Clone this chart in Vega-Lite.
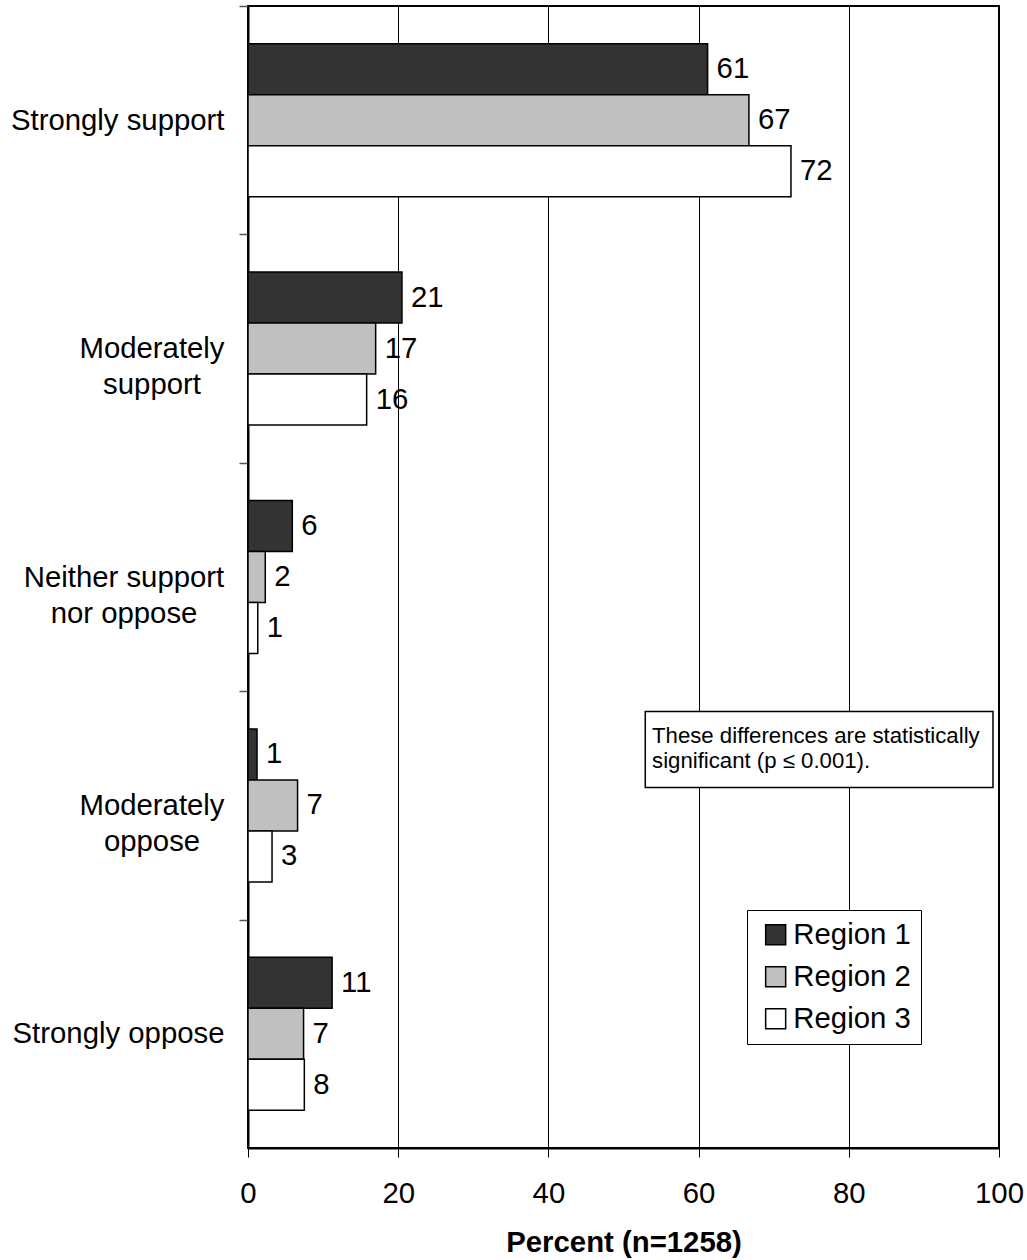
{
  "$schema": "https://vega.github.io/schema/vega-lite/v6.json",
  "width": 751,
  "height": 1142,
  "autosize": {"type": "none"},
  "padding": {"left": 248, "top": 6, "right": 28, "bottom": 112},
  "background": "white",
  "config": {
    "font": "Liberation Sans",
    "view": {"stroke": "black", "strokeWidth": 2}
  },
  "datasets": {
    "bars": [
      {"category": "Strongly support", "region": "Region 1", "value": 61.2, "label": "61"},
      {"category": "Strongly support", "region": "Region 2", "value": 66.7, "label": "67"},
      {"category": "Strongly support", "region": "Region 3", "value": 72.3, "label": "72"},
      {"category": "Moderately support", "region": "Region 1", "value": 20.5, "label": "21"},
      {"category": "Moderately support", "region": "Region 2", "value": 17.0, "label": "17"},
      {"category": "Moderately support", "region": "Region 3", "value": 15.8, "label": "16"},
      {"category": "Neither support nor oppose", "region": "Region 1", "value": 5.9, "label": "6"},
      {"category": "Neither support nor oppose", "region": "Region 2", "value": 2.3, "label": "2"},
      {"category": "Neither support nor oppose", "region": "Region 3", "value": 1.3, "label": "1"},
      {"category": "Moderately oppose", "region": "Region 1", "value": 1.2, "label": "1"},
      {"category": "Moderately oppose", "region": "Region 2", "value": 6.6, "label": "7"},
      {"category": "Moderately oppose", "region": "Region 3", "value": 3.2, "label": "3"},
      {"category": "Strongly oppose", "region": "Region 1", "value": 11.2, "label": "11"},
      {"category": "Strongly oppose", "region": "Region 2", "value": 7.4, "label": "7"},
      {"category": "Strongly oppose", "region": "Region 3", "value": 7.5, "label": "8"}
    ],
    "note": [
      {"category": "Moderately oppose", "value": 52.9, "value2": 99.2, "textx": 53.8, "text": ["These differences are statistically", "significant (p ≤ 0.001)."]}
    ]
  },
  "layer": [
    {
      "data": {"name": "bars"},
      "mark": {"type": "bar", "stroke": "black", "strokeWidth": 1.5},
      "encoding": {
        "y": {
          "field": "category", "type": "nominal",
          "sort": ["Strongly support", "Moderately support", "Neither support nor oppose", "Moderately oppose", "Strongly oppose"],
          "scale": {"paddingInner": 0.33, "paddingOuter": 0.165},
          "axis": {
            "title": null,
            "domainColor": "black", "domainWidth": 2,
            "ticks": true, "tickOffset": -114.2, "tickSize": 9, "tickColor": "#555555", "tickWidth": 1.5,
            "labelOffset": 114.2,
            "labelFontSize": 29.33, "labelColor": "black", "labelLineHeight": 36, "labelLimit": 0,
            "labelExpr": "!isValid(datum.value) ? '' : datum.value == 'Neither support nor oppose' ? ['Neither support', 'nor oppose'] : (datum.value == 'Strongly support' || datum.value == 'Strongly oppose') ? datum.value : split(datum.value, ' ')",
            "labelAlign": {"condition": {"test": "datum.value == 'Strongly support' || datum.value == 'Strongly oppose'", "value": "right"}, "value": "center"},
            "labelPadding": {"condition": [{"test": "datum.value == 'Strongly support' || datum.value == 'Strongly oppose'", "value": 15}, {"test": "datum.value == 'Neither support nor oppose'", "value": 115.5}], "value": 87.5},
            "labelOverlap": false
          }
        },
        "x": {
          "field": "value", "type": "quantitative",
          "title": "Percent (n=1258)",
          "scale": {"domain": [0, 100], "nice": false},
          "axis": {
            "values": [0, 20, 40, 60, 80, 100],
            "grid": true, "gridColor": "black", "gridWidth": 1,
            "domainColor": "black", "domainWidth": 2,
            "tickColor": "black", "tickSize": 9, "tickWidth": 1,
            "labelFontSize": 29.33, "labelColor": "black", "labelPadding": 22, "labelFlush": false, "labelOverlap": false,
            "titleFontSize": 29.33, "titleFontWeight": "bold", "titleColor": "black", "titlePadding": 20
          }
        },
        "yOffset": {"field": "region", "type": "nominal", "scale": {"paddingInner": 0, "paddingOuter": 0}},
        "fill": {
          "field": "region", "type": "nominal",
          "scale": {"domain": ["Region 1", "Region 2", "Region 3"], "range": ["#333333", "#c0c0c0", "#ffffff"]},
          "legend": {
            "title": null, "orient": "none", "legendX": 499, "legendY": 904,
            "strokeColor": "black", "fillColor": "white", "padding": 10,
            "symbolType": "square", "symbolSize": 400, "symbolStrokeColor": "black", "symbolStrokeWidth": 1.5,
            "symbolOffset": 4, "labelFontSize": 29.33, "labelColor": "black", "labelOffset": 3, "rowPadding": 12
          }
        }
      }
    },
    {
      "data": {"name": "bars"},
      "mark": {"type": "text", "align": "left", "baseline": "middle", "dx": 9, "fontSize": 29.33, "color": "black"},
      "encoding": {
        "y": {"field": "category", "type": "nominal", "sort": ["Strongly support", "Moderately support", "Neither support nor oppose", "Moderately oppose", "Strongly oppose"]},
        "x": {"field": "value", "type": "quantitative", "title": "Percent (n=1258)"},
        "yOffset": {"field": "region", "type": "nominal"},
        "text": {"field": "label"}
      }
    },
    {
      "data": {"name": "note"},
      "mark": {"type": "bar", "fill": "white", "stroke": "black", "strokeWidth": 1.5, "height": 76, "yOffset": -56},
      "encoding": {
        "y": {"field": "category", "type": "nominal", "sort": ["Strongly support", "Moderately support", "Neither support nor oppose", "Moderately oppose", "Strongly oppose"]},
        "x": {"field": "value", "type": "quantitative", "title": "Percent (n=1258)"},
        "x2": {"field": "value2"}
      }
    },
    {
      "data": {"name": "note"},
      "mark": {"type": "text", "align": "left", "baseline": "middle", "fontSize": 22.2, "lineHeight": 25, "yOffset": -69, "color": "black"},
      "encoding": {
        "y": {"field": "category", "type": "nominal", "sort": ["Strongly support", "Moderately support", "Neither support nor oppose", "Moderately oppose", "Strongly oppose"]},
        "x": {"field": "textx", "type": "quantitative", "title": "Percent (n=1258)"},
        "text": {"field": "text"}
      }
    }
  ]
}
